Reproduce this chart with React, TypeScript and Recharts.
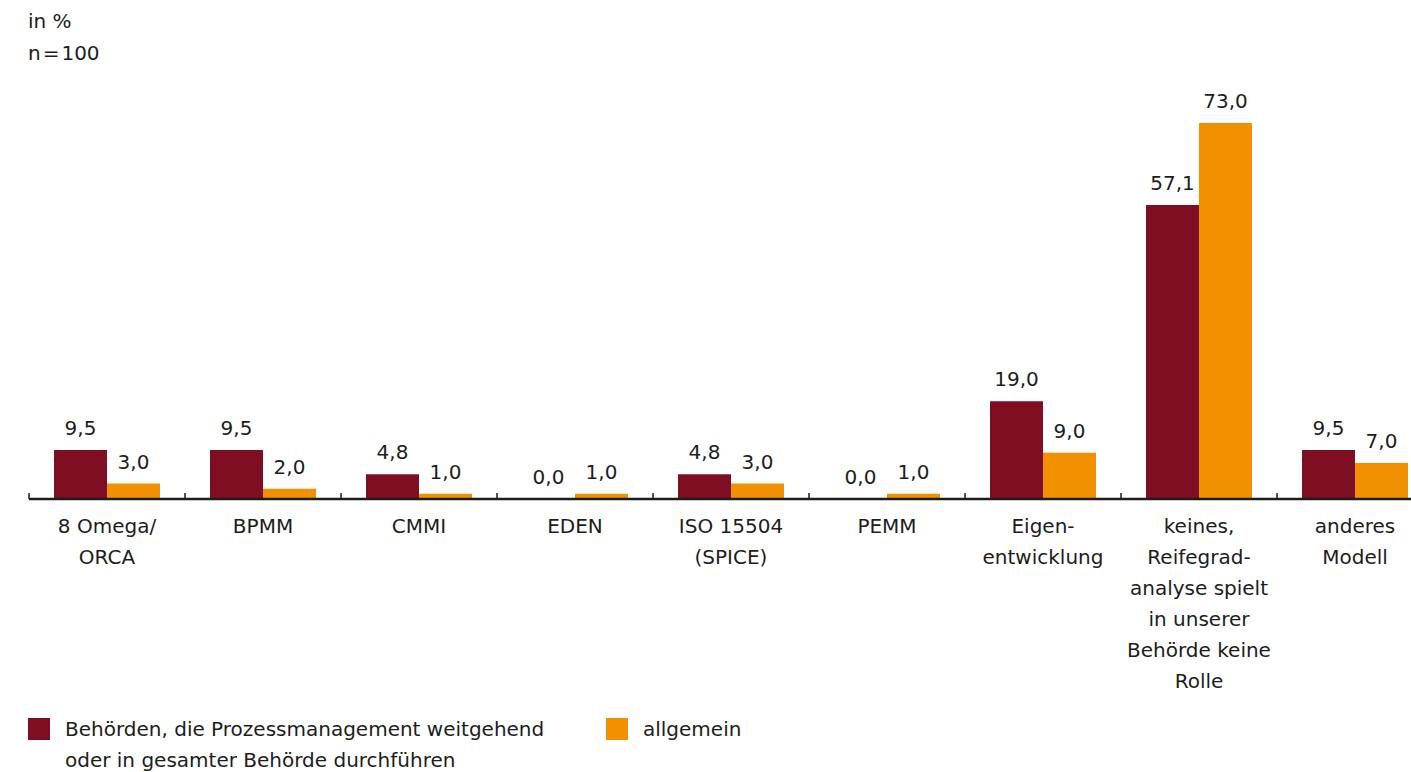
import { Bar, BarChart, LabelList, XAxis, YAxis } from 'recharts'

// Reifegradmodelle: Behörden mit weitgehendem Prozessmanagement vs. allgemein (in %)

const categories = [
  '8 Omega/\nORCA',
  'BPMM',
  'CMMI',
  'EDEN',
  'ISO 15504\n(SPICE)',
  'PEMM',
  'Eigen-\nentwicklung',
  'keines,\nReifegrad-\nanalyse spielt\nin unserer\nBehörde keine\nRolle',
  'anderes\nModell',
]
const behoerdenValues = [9.5, 9.5, 4.8, 0.0, 4.8, 0.0, 19.0, 57.1, 9.5]
const allgemeinValues = [3.0, 2.0, 1.0, 1.0, 3.0, 1.0, 9.0, 73.0, 7.0]
const seriesNames = [
  'Behörden, die Prozessmanagement weitgehend\noder in gesamter Behörde durchführen',
  'allgemein',
]
const headerLines = ['in %', 'n\u200A=\u200A100']

const RED = '#7f0e22'
const ORANGE = '#f29100'
const INK = '#1d1d1b'
const FONT = '"DejaVu Sans", sans-serif'

const CHART_W = 1460
const CHART_H = 772
const MARGIN = { top: 123, right: 27, bottom: 73, left: 29 }
const BAND = (CHART_W - MARGIN.left - MARGIN.right) / categories.length

const data = categories.map((name, i) => ({
  name,
  behoerden: behoerdenValues[i],
  allgemein: allgemeinValues[i],
}))

const fmt = (v: number) => Number(v).toFixed(1).replace('.', ',')

function CategoryTick({ x, y, payload }: { x?: number; y?: number; payload?: { value: string; offset?: number } }) {
  if (x == null || y == null || !payload) return null
  const half = payload.offset || BAND / 2
  const lines = String(payload.value).split('\n')
  return (
    <g>
      <line x1={x - half} x2={x - half} y1={y - 6} y2={y} stroke={INK} strokeWidth={1.5} />
      <text x={x} y={y + 34} textAnchor="middle" fontFamily={FONT} fontSize={20} fill={INK}>
        {lines.map((l, i) => (
          <tspan key={i} x={x} dy={i === 0 ? 0 : 31}>
            {l}
          </tspan>
        ))}
      </text>
    </g>
  )
}

const textStyle = { fontFamily: FONT, fontSize: 20, color: INK, lineHeight: '31px' }

export default function App() {
  const colors = [RED, ORANGE]
  const legendX = [28, 606]
  return (
    <div
      style={{
        position: 'absolute',
        left: 0,
        top: 0,
        width: 1411,
        height: 772,
        overflow: 'hidden',
        background: '#fff',
      }}
    >
      <div style={{ position: 'absolute', left: 28, top: 5, ...textStyle, lineHeight: '32px' }}>
        {headerLines.map((l) => (
          <div key={l}>{l}</div>
        ))}
      </div>

      <div style={{ position: 'absolute', left: 0, top: 0 }}>
        <BarChart
          width={CHART_W}
          height={CHART_H}
          data={data}
          margin={MARGIN}
          barCategoryGap={25}
          barGap={0}
        >
          <YAxis hide domain={[0, 73]} />
          <XAxis
            dataKey="name"
            interval={0}
            height={200}
            tickSize={0}
            tickMargin={0}
            tickLine={false}
            axisLine={{ stroke: INK, strokeWidth: 2.5 }}
            tick={<CategoryTick />}
          />
          <Bar dataKey="behoerden" fill={RED} minPointSize={0.01} isAnimationActive={false}>
            <LabelList
              dataKey="behoerden"
              position="top"
              offset={15}
              formatter={(v: number) => fmt(v)}
              fontFamily={FONT}
              fontSize={20}
              fill={INK}
            />
          </Bar>
          <Bar dataKey="allgemein" fill={ORANGE} minPointSize={0.01} isAnimationActive={false}>
            <LabelList
              dataKey="allgemein"
              position="top"
              offset={15}
              formatter={(v: number) => fmt(v)}
              fontFamily={FONT}
              fontSize={20}
              fill={INK}
            />
          </Bar>
        </BarChart>
      </div>

      {seriesNames.map((s, i) => (
        <div key={s} style={{ position: 'absolute', left: legendX[i], top: 714, display: 'flex' }}>
          <div style={{ width: 22, height: 22, background: colors[i], marginTop: 4 }} />
          <div style={{ marginLeft: 15, whiteSpace: 'pre', ...textStyle }}>{s}</div>
        </div>
      ))}
    </div>
  )
}
